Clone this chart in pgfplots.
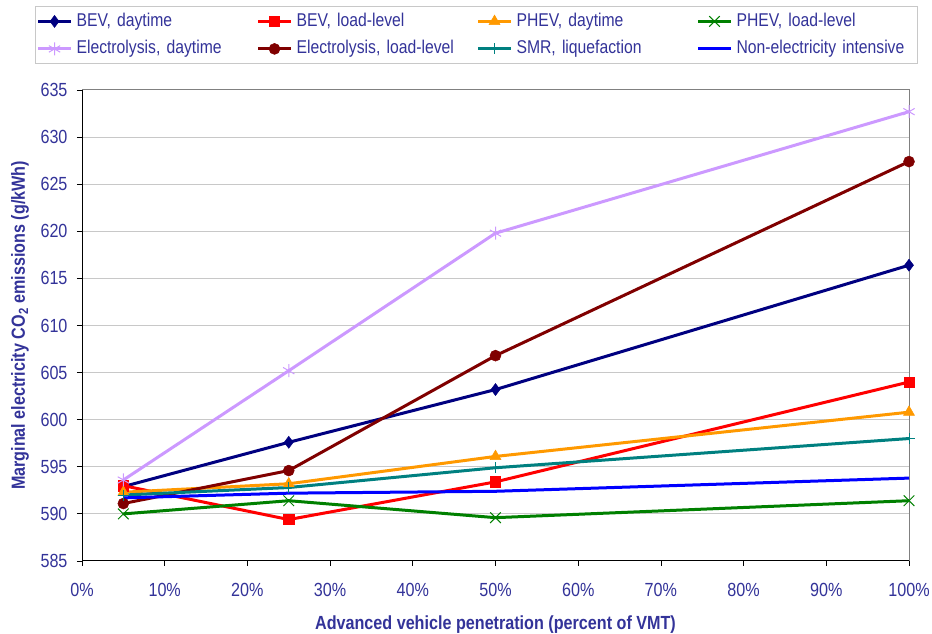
\documentclass[border=0pt]{standalone}
\usepackage{fontspec}
\setmainfont{Liberation Sans}[FakeStretch=0.85]
\usepackage{pgfplots}
\pgfplotsset{compat=1.18}

\definecolor{labelblue}{RGB}{51,51,153}
\definecolor{gridgray}{RGB}{200,200,200}
\definecolor{framegray}{RGB}{128,128,128}
\definecolor{bevday}{RGB}{0,0,128}
\definecolor{bevload}{RGB}{255,0,0}
\definecolor{phevday}{RGB}{255,153,0}
\definecolor{phevload}{RGB}{0,128,0}
\definecolor{elecday}{RGB}{204,153,255}
\definecolor{elecload}{RGB}{128,0,0}
\definecolor{smr}{RGB}{0,128,128}
\definecolor{nonelec}{RGB}{0,0,255}

\begin{document}
\begin{tikzpicture}
\useasboundingbox (0,0) rectangle (932pt,634pt);
\begin{axis}[
  at={(82pt,73pt)}, anchor=south west,
  scale only axis, width=827pt, height=471pt,
  xmin=0, xmax=100, ymin=585, ymax=635,
  xtick={0,10,...,100},
  xticklabels={0\%,10\%,20\%,30\%,40\%,50\%,60\%,70\%,80\%,90\%,100\%},
  ytick={585,590,...,635},
  yticklabels={585,590,595,600,605,610,615,620,625,630,635},
  tick align=outside, xtick pos=bottom, ytick pos=left,
  major tick length=5pt,
  tick style={black, line width=0.8pt},
  ymajorgrids, grid style={gridgray, line width=1pt},
  axis line style={framegray, line width=1pt},
  tick label style={font=\fontsize{19}{21}\selectfont, text=labelblue},
  xticklabel style={yshift=-14pt},
  yticklabel style={xshift=-6pt},
  xlabel={Advanced vehicle penetration (percent of VMT)},
  ylabel={Marginal electricity CO\textsubscript{2} emissions (g/kWh)},
  every axis x label/.style={at={(axis description cs:0.5,-0.134)}, anchor=center,
    font=\fontsize{19}{22}\selectfont\bfseries, text=labelblue},
  every axis y label/.style={at={(axis description cs:-0.075,0.5)}, anchor=center, rotate=90,
    font=\fontsize{19}{22}\selectfont\bfseries, text=labelblue},
  legend columns=4,
  legend style={at={(axis description cs:-0.0568,1.178)}, anchor=north west,
    draw=gridgray, line width=1pt, inner sep=1pt,
    font=\fontsize{18.5}{20}\selectfont, text=labelblue,
    nodes={text width=176pt, align=left, inner xsep=4pt, inner ysep=4.75pt,
      text height=14pt, text depth=4pt}},
  legend image code/.code={\draw[mark repeat=2, mark phase=2]
    plot coordinates {(0pt,0pt) (16.5pt,0pt) (33pt,0pt)};},
  every axis plot/.append style={line width=3pt},
]
\addplot[bevday, mark=diamond*, mark size=6pt, mark options={solid, line width=0.5pt, fill=bevday}]
  coordinates {(5,592.9) (25,597.6) (50,603.2) (100,616.4)};
\addlegendentry{BEV, daytime}
\addplot[bevload, mark=square*, mark size=5.2pt, mark options={solid, line width=0.5pt, fill=bevload}]
  coordinates {(5,593.0) (25,589.4) (50,593.4) (100,604.0)};
\addlegendentry{BEV, load-level}
\addplot[phevday, mark=triangle*, mark size=6.3pt, mark options={solid, line width=0.5pt, fill=phevday}]
  coordinates {(5,592.3) (25,593.2) (50,596.1) (100,600.8)};
\addlegendentry{PHEV, daytime}
\addplot[phevload, mark=x, mark size=7.5pt, mark options={solid, line width=1pt}]
  coordinates {(5,590.0) (25,591.4) (50,589.6) (100,591.4)};
\addlegendentry{PHEV, load-level}
\addplot[elecday, mark=asterisk, mark size=6.5pt, mark options={solid, line width=1pt}]
  coordinates {(5,593.6) (25,605.2) (50,619.8) (100,632.7)};
\addlegendentry{Electrolysis, daytime}
\addplot[elecload, mark=*, mark size=5.5pt, mark options={solid, line width=0.5pt, fill=elecload}]
  coordinates {(5,591.1) (25,594.6) (50,606.8) (100,627.4)};
\addlegendentry{Electrolysis, load-level}
\addplot[smr, mark=+, mark size=5.5pt, mark options={solid, line width=1pt}]
  coordinates {(5,592.0) (25,592.8) (50,594.9) (100,598.0)};
\addlegendentry{SMR, liquefaction}
\addplot[nonelec, mark=none]
  coordinates {(5,591.7) (25,592.2) (50,592.4) (100,593.8)};
\addlegendentry{Non-electricity intensive}
% left and bottom axis lines in black over the grey frame
\draw[black, line width=1.2pt] (rel axis cs:0,1) -- (rel axis cs:0,0) -- (rel axis cs:1,0);
\end{axis}
\end{tikzpicture}
\end{document}
